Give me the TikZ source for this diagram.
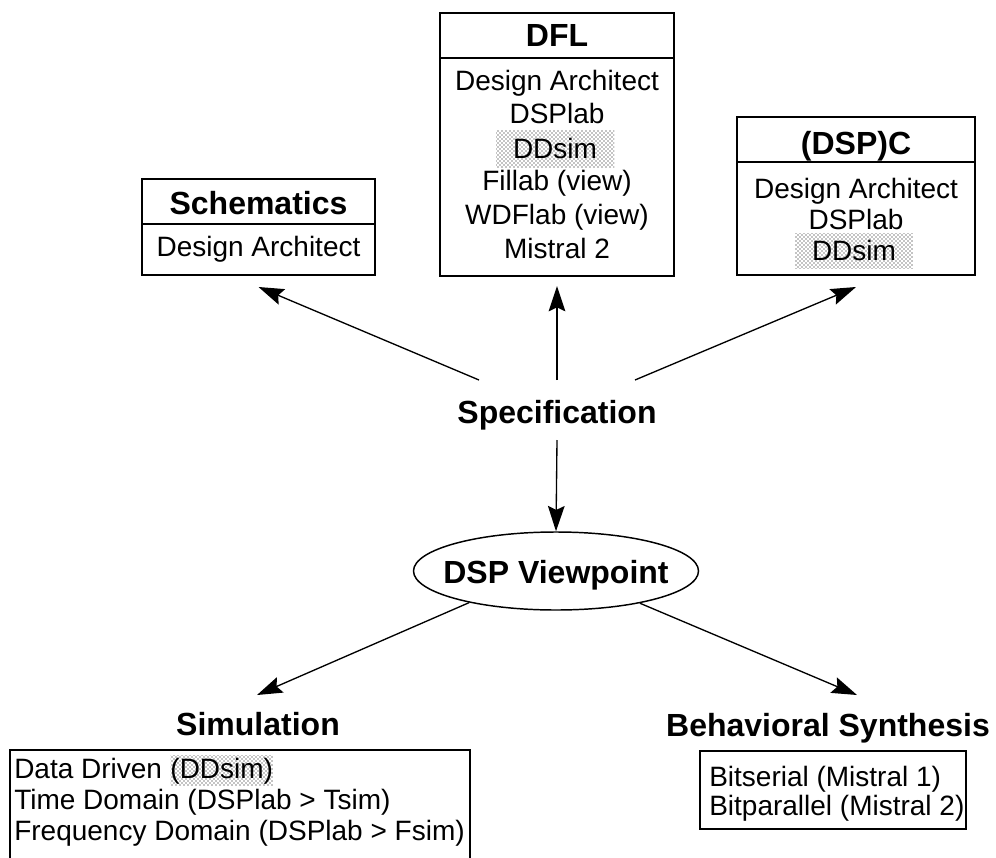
\documentclass[tikz,border=0pt]{standalone}
\usepackage{fontspec}
\setmainfont{Liberation Sans}
\usetikzlibrary{shapes.geometric,arrows.meta,calc,patterns}
\begin{document}
\begin{tikzpicture}[x=0.75pt,y=-0.75pt,
  box/.style={draw, line width=1.5pt, inner sep=0pt},
  hd/.style={font=\fontsize{24}{28}\selectfont\bfseries, inner sep=0pt, anchor=base},
  tx/.style={font=\fontsize{21}{25}\selectfont, inner sep=0pt, anchor=base},
  hl/.style={pattern=crosshatch dots, pattern color=black, inner sep=0pt, font=\fontsize{21}{25}\selectfont},
  sep/.style={line width=1.5pt},
  conn/.style={line width=1pt, -{Stealth[length=19pt,width=12.5pt,inset=3pt]}},
]
\useasboundingbox (0,0) rectangle (996,857);

% ---- Schematics
\node[box, minimum width=174.75pt, minimum height=72pt] (schem) at (258.5,227) {};
\draw[sep] ($(schem.north west)+(0,46)$) -- ($(schem.north east)+(0,46)$);
\node[hd] (schemh) at (258.5,214.5) {Schematics};
\node[tx] (schem1) at (258.5,256) {Design Architect};

% ---- DFL
\node[box, minimum width=175.5pt, minimum height=197.25pt] (dfl) at (557,144.5) {};
\draw[sep] ($(dfl.north west)+(0,46)$) -- ($(dfl.north east)+(0,46)$);
\node[hd] (dflh) at (557,46.5) {DFL};
\node[tx] (dfl1) at (557,90) {Design Architect};
\node[tx] (dfl2) at (557,123.6) {DSPlab};
\node[hl, minimum width=88.5pt, minimum height=27.75pt] (dfl3) at (555,148.5) {DDsim};
\node[tx] (dfl4) at (557,190.8) {Fillab (view)};
\node[tx] (dfl5) at (557,224.4) {WDFlab (view)};
\node[tx] (dfl6) at (557,258) {Mistral 2};

% ---- (DSP)C
\node[box, minimum width=178.5pt, minimum height=118.5pt] (dspc) at (856,196) {};
\draw[sep] ($(dspc.north west)+(0,46)$) -- ($(dspc.north east)+(0,46)$);
\node[hd] (dspch) at (856,154.5) {(DSP)C};
\node[tx] (dspc1) at (856,198) {Design Architect};
\node[tx] (dspc2) at (856,229) {DSPlab};
\node[hl, minimum width=88.5pt, minimum height=26.25pt] (dspc3) at (854,250.5) {DDsim};

% ---- Specification
\node[hd] (spec) at (557,423.5) {Specification};

% ---- DSP Viewpoint
\node[ellipse, draw, line width=1.1pt, minimum width=213.75pt, minimum height=58.5pt, inner sep=0pt] (dspv) at (556,571) {};
\node[hd] (dspvt) at (556,583.5) {DSP Viewpoint};

% ---- Simulation
\node[hd] (simlbl) at (258,735.5) {Simulation};
\begin{scope}
\clip (0,0) rectangle (996,857);
\node[box, minimum width=345pt, minimum height=90pt] (simbox) at (240,810) {};
\end{scope}
\node[tx, anchor=base west] (sim1) at (14,778) {Data Driven};
\node[hl, anchor=base west, inner ysep=1.5pt, inner xsep=0pt] (sim1h) at ($(sim1.base east)+(7.8,0)$) {(DDsim)\hspace{5pt}};
\node[tx, anchor=base west] (sim2) at (14,809) {Time Domain (DSPlab > Tsim)};
\node[tx, anchor=base west] (sim3) at (14,840) {Frequency Domain (DSPlab > Fsim)};

% ---- Behavioral Synthesis
\node[hd] (behlbl) at (828,736.5) {Behavioral Synthesis};
\node[box, minimum width=199.5pt, minimum height=58.5pt] (behbox) at (833,790) {};
\node[tx, anchor=base west] (beh1) at (709,786.5) {Bitserial (Mistral 1)};
\node[tx, anchor=base west] (beh2) at (709,815) {Bitparallel (Mistral 2)};

% ---- connectors
\draw[conn] ($(spec.base)+(0,-43.5)$) -- ($(dfl.south)+(0,9)$);
\draw[conn] ($(spec.base)+(-78,-43.5)$) -- ($(schem.south)+(0,11)$);
\draw[conn] ($(spec.base)+(78,-43.5)$) -- ($(dspc.south)+(0,11)$);
\draw[conn] ($(spec.base)+(0,16.5)$) -- (dspv.north);
\draw[conn] (dspv.200) -- ($(simlbl.base)+(-1,-40.5)$);
\draw[conn] (dspv.-21) -- ($(behlbl.base)+(29,-41.5)$);
\end{tikzpicture}
\end{document}
